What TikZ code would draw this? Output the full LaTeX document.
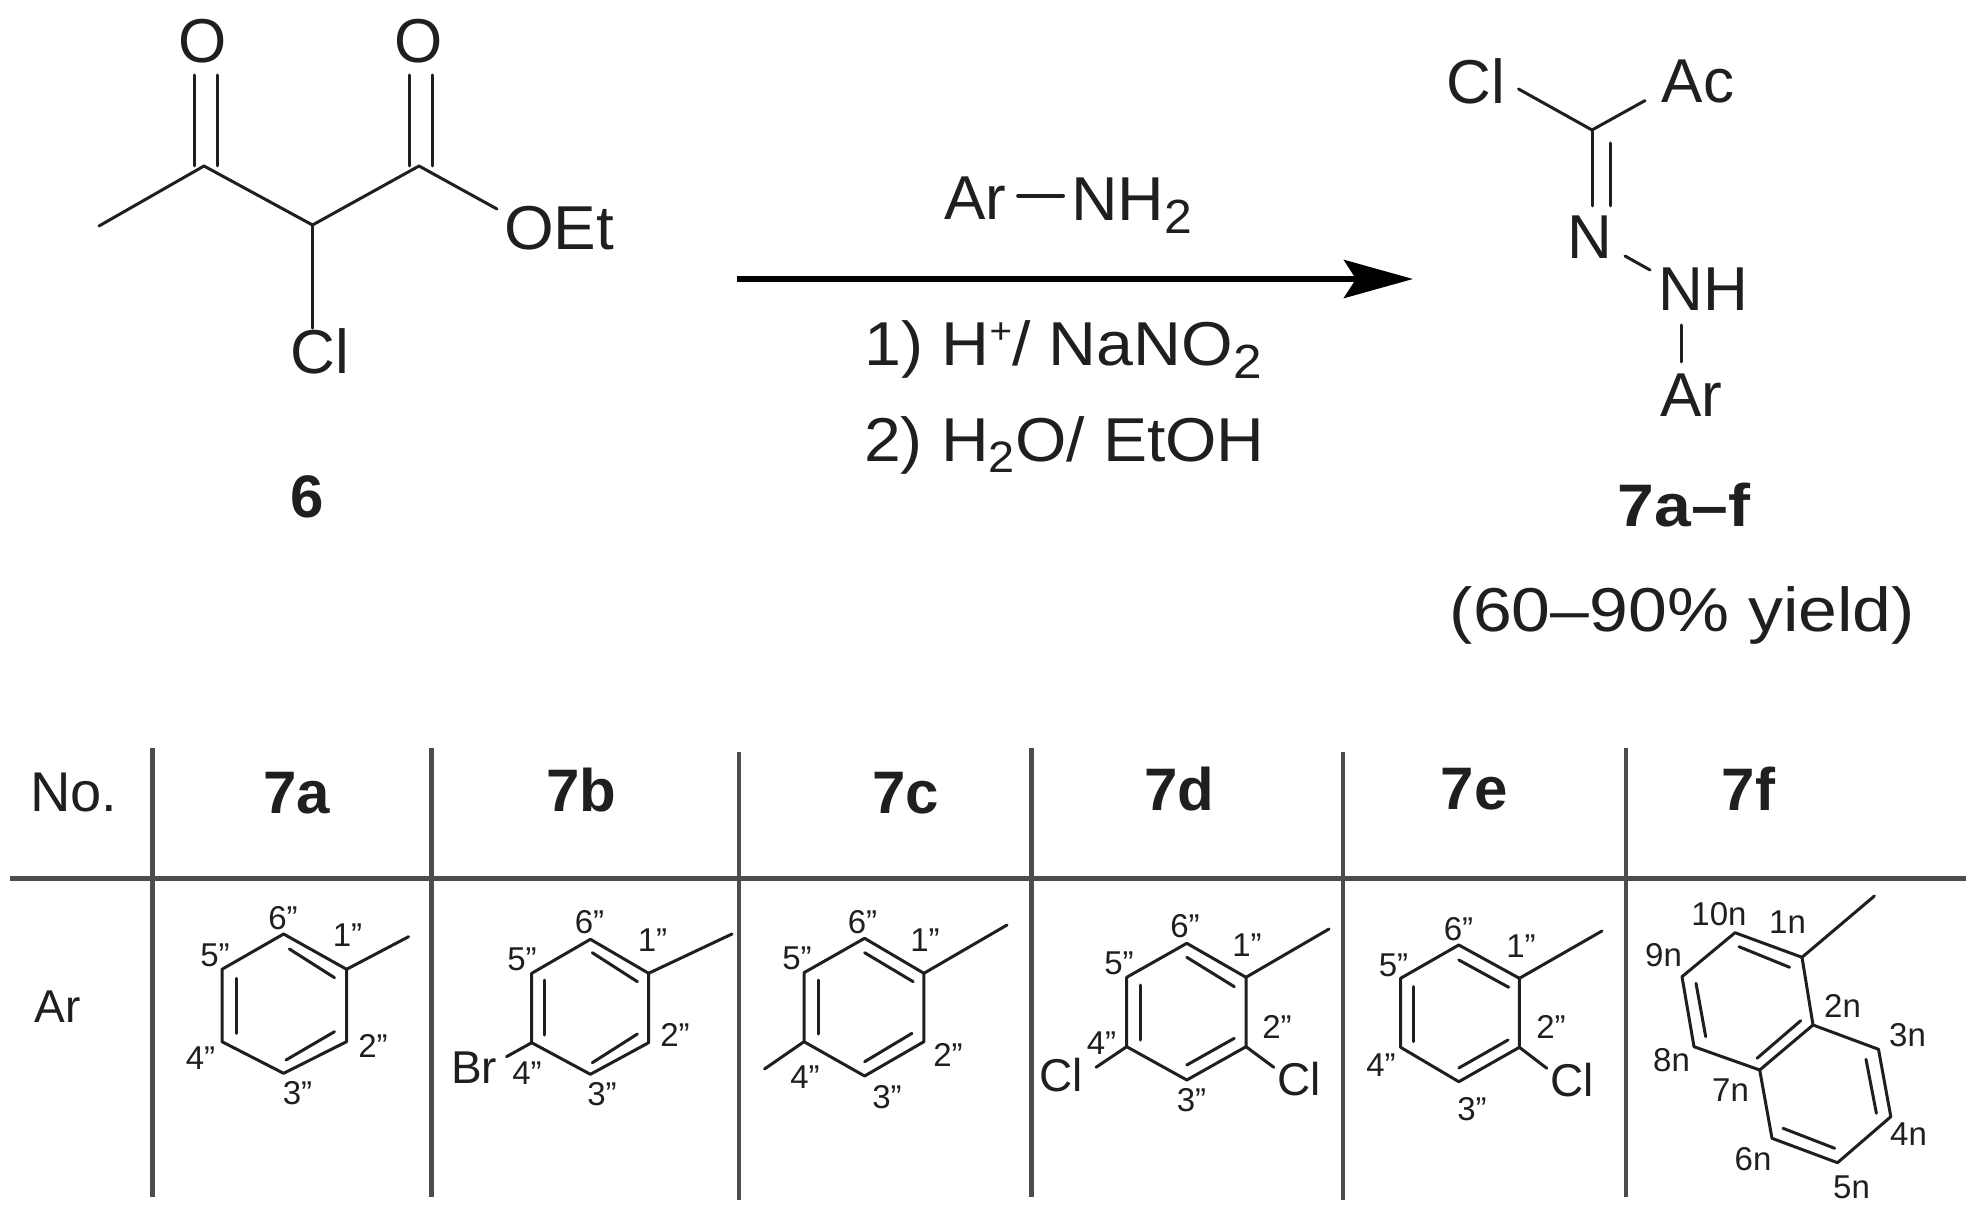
\documentclass[tikz,border=0pt]{standalone}
\usepackage{fontspec}
\setmainfont{Liberation Sans}
\usetikzlibrary{arrows.meta}
\definecolor{ink}{gray}{0.12}
\definecolor{rule}{gray}{0.3}
\newcommand{\subtwo}{\raisebox{-13pt}{\fontsize{48}{48}\selectfont 2}}
\newcommand{\subtwos}{\raisebox{-11pt}{\fontsize{44}{44}\selectfont 2}}
\begin{document}
\begin{tikzpicture}[x=1pt,y=-1pt,
  big/.style={inner sep=0pt,text=ink,font=\fontsize{62}{62}\selectfont},
  head/.style={inner sep=0pt,text=ink,font=\fontsize{60}{60}\selectfont\bfseries},
  sym/.style={inner sep=0pt,text=ink,font=\fontsize{46}{46}\selectfont},
  lab/.style={inner sep=0pt,text=ink,font=\fontsize{33}{33}\selectfont},
  bond/.style={line width=3pt,draw=ink,line cap=round,line join=round},
  rule/.style={line width=4.5pt,draw=rule},
  rxn/.style={line width=6pt,draw=black,-{Stealth[length=69pt,width=38pt,inset=12pt]}}]
\useasboundingbox (0,0) rectangle (1982,1214);
% compound 6
\coordinate (me) at (99,226);
\coordinate (co) at (204,166);
\coordinate (ch) at (312.5,225);
\coordinate (es) at (419,166);
\coordinate (oetend) at (497,209);
\coordinate (co1) at (194.5,166);
\coordinate (co2) at (217,166);
\coordinate (es1) at (409.5,166);
\coordinate (es2) at (432,166);
\node[big] (ketoO) at (203,41){O};
\node[big] (esterO) at (419,41){O};
\node[big,anchor=base west] (oet) at (504,250){\scalebox{1.03}[1]{OEt}};
\node[big] (chl) at (320,351){Cl};
\node[head] (six) at (307,497){6};
\draw[bond] (me)--(co)--(ch)--(es)--(oetend);
\draw[bond] (ch)--(ch |- chl.north);
\draw[bond] (co1)--(co1 |- 0,75);
\draw[bond] (co2)--(co2 |- 0,75);
\draw[bond] (es1)--(es1 |- 0,75);
\draw[bond] (es2)--(es2 |- 0,75);
% arrow and reagents
\coordinate (arrL) at (737,279);
\coordinate (arrR) at (1413,279);
\draw[rxn] (arrL)--(arrR);
\node[big,anchor=base,inner xsep=12pt] (ra) at (975,220){Ar};
\node[big,anchor=base west,inner xsep=8pt] (nh) at (1063,221){\scalebox{1.04}[1]{NH\subtwo}};
\draw[bond,line width=4pt] ([yshift=3pt]ra.east)--([yshift=3pt]ra.east -| nh.west);
\node[big,anchor=base west] (stepone) at (864,366){\scalebox{1.07}[1]{1) H\raisebox{22pt}{\fontsize{36}{36}\selectfont +}/ NaNO\subtwo}};
\node[big,anchor=base west] (steptwo) at (864,461){\scalebox{1.065}[1]{2) H\subtwos O/ EtOH}};
% compound 7
\coordinate (cn) at (1592,130);
\coordinate (clend) at (1518.5,89);
\coordinate (acend) at (1645,100.6);
\coordinate (cn2) at (1610.5,143);
\coordinate (nhs) at (1625,256);
\coordinate (nhe) at (1650,270);
\node[big] (pcl) at (1476,81){Cl};
\node[big] (pac) at (1698,81){Ac};
\node[big] (pn) at (1590,237.5){N};
\node[big] (pnh) at (1703,289.5){NH};
\node[big] (par) at (1691.5,395){Ar};
\node[head] (seven) at (1684,505){\scalebox{1.1}[1]{7a–f}};
\node[big,anchor=base] (yield) at (1682.5,631){\scalebox{1.125}[1]{(60–90\% yield)}};
\draw[bond] (clend)--(cn)--(acend);
\draw[bond] (cn)--(cn |- 0,206);
\draw[bond] (cn2)--(cn2 |- 0,206);
\draw[bond] (nhs)--(nhe);
\coordinate (arS) at (1681,325);
\coordinate (arE) at (1681,362);
\draw[bond] (arS)--(arE);
% table
\coordinate (hL) at (10,878);
\coordinate (hR) at (1966,878);
\draw[rule,line width=5pt] (hL)--(hR);
\foreach \nm/\x/\ya/\yb in {a/152.7/748/1197,b/431.4/748/1197,c/739/752/1200,d/1031.4/748/1197,e/1343/752/1200,f/1626/748/1197}{
  \coordinate (v\nm t) at (\x,\ya);
  \coordinate (v\nm b) at (\x,\yb);
  \draw[rule] (v\nm t)--(v\nm b);
}
\node[big,font=\fontsize{56}{56}\selectfont] (no) at (74,793){No.};
\node[head] (t7a) at (296.5,793){7a};
\node[head] (t7b) at (581.5,790.5){7b};
\node[head] (t7c) at (906,793){7c};
\node[head] (t7d) at (1179,789){7d};
\node[head] (t7e) at (1474,789){7e};
\node[head] (t7f) at (1748.5,789){7f};
\node[sym] (ar) at (57.5,1007){Ar};
% 7a
\coordinate (a1) at (346.6,969.3);
\coordinate (a2) at (346.6,1041.7);
\coordinate (a3) at (283.6,1073.3);
\coordinate (a4) at (222,1041.7);
\coordinate (a5) at (222,969.3);
\coordinate (a6) at (283.6,934);
\coordinate (am) at (408.6,936.7);
\draw[bond] (a1)--(a2)--(a3)--(a4)--(a5)--(a6)--cycle;
\draw[bond] (a1)--(am);
\draw[bond] (289.4,949)--(334.5,977.7);
\draw[bond] (236.5,978.3)--(236.5,1033.3);
\draw[bond] (286,1060)--(334.5,1031.7);
\node[lab] (la6) at (283,918){6"};
\node[lab] (la1) at (347.5,935){1"};
\node[lab] (la5) at (215,955){5"};
\node[lab] (la4) at (200.5,1058.5){4"};
\node[lab] (la3) at (297.5,1093){3"};
\node[lab] (la2) at (373,1046){2"};
% 7b
\coordinate (b1) at (648.6,973.3);
\coordinate (b2) at (648.6,1042.7);
\coordinate (b3) at (590.4,1074.3);
\coordinate (b4) at (531.7,1042.7);
\coordinate (b5) at (531.7,973.3);
\coordinate (b6) at (590.4,939.3);
\coordinate (bm) at (732,934);
\coordinate (bbr) at (506.5,1056.7);
\draw[bond] (b1)--(b2)--(b3)--(b4)--(b5)--(b6)--cycle;
\draw[bond] (b1)--(bm);
\draw[bond] (b4)--(bbr);
\draw[bond] (592.3,952.7)--(637.4,981.7);
\draw[bond] (544,980)--(544,1035);
\draw[bond] (592.3,1062.7)--(637.4,1034);
\node[sym] (br) at (474,1068){Br};
\node[lab] (lb6) at (589.5,922){6"};
\node[lab] (lb1) at (652.5,940){1"};
\node[lab] (lb5) at (522,959){5"};
\node[lab] (lb4) at (527,1073){4"};
\node[lab] (lb3) at (602,1094){3"};
\node[lab] (lb2) at (675,1034.5){2"};
% 7c
\coordinate (c1) at (923.9,973.3);
\coordinate (c2) at (923.9,1041.7);
\coordinate (c3) at (864.6,1076);
\coordinate (c4) at (804,1041.7);
\coordinate (c5) at (804,972.7);
\coordinate (c6) at (864.6,938.3);
\coordinate (cm) at (1007,925);
\coordinate (cn4) at (764.5,1069);
\draw[bond] (c1)--(c2)--(c3)--(c4)--(c5)--(c6)--cycle;
\draw[bond] (c1)--(cm);
\draw[bond] (c4)--(cn4);
\draw[bond] (864.6,952.7)--(913.2,981.7);
\draw[bond] (818,980)--(818,1034);
\draw[bond] (864.6,1061.7)--(912,1033.3);
\node[lab] (lc6) at (862.5,922){6"};
\node[lab] (lc1) at (925,940){1"};
\node[lab] (lc5) at (797,958.5){5"};
\node[lab] (lc4) at (805,1077){4"};
\node[lab] (lc3) at (887,1097){3"};
\node[lab] (lc2) at (948,1055){2"};
% 7d
\coordinate (d1) at (1246,977.3);
\coordinate (d2) at (1246,1046.7);
\coordinate (d3) at (1186.8,1080);
\coordinate (d4) at (1126.7,1046.7);
\coordinate (d5) at (1126.7,977.3);
\coordinate (d6) at (1186.8,943.3);
\coordinate (dm) at (1329,929);
\coordinate (dcl4) at (1096,1067.3);
\coordinate (dcl2) at (1273.8,1067.3);
\draw[bond] (d1)--(d2)--(d3)--(d4)--(d5)--(d6)--cycle;
\draw[bond] (d1)--(dm);
\draw[bond] (d4)--(dcl4);
\draw[bond] (d2)--(dcl2);
\draw[bond] (1186.8,957.3)--(1234.3,986.7);
\draw[bond] (1140,985)--(1140,1040);
\draw[bond] (1186.8,1065)--(1234.3,1038.3);
\node[sym] (dcla) at (1061,1075.5){Cl};
\node[sym] (dclb) at (1299,1079){Cl};
\node[lab] (ld6) at (1185,926){6"};
\node[lab] (ld1) at (1247,945){1"};
\node[lab] (ld5) at (1119,963){5"};
\node[lab] (ld4) at (1101.5,1043.5){4"};
\node[lab] (ld3) at (1191.5,1100){3"};
\node[lab] (ld2) at (1277,1026.5){2"};
% 7e
\coordinate (e1) at (1519.4,978.3);
\coordinate (e2) at (1519.4,1047.3);
\coordinate (e3) at (1458.8,1081.7);
\coordinate (e4) at (1400.6,1047.3);
\coordinate (e5) at (1400.6,978.3);
\coordinate (e6) at (1458.8,945);
\coordinate (em) at (1602,931);
\coordinate (ecl) at (1546.8,1068.3);
\draw[bond] (e1)--(e2)--(e3)--(e4)--(e5)--(e6)--cycle;
\draw[bond] (e1)--(em);
\draw[bond] (e2)--(ecl);
\draw[bond] (1458.8,960)--(1508.7,987.3);
\draw[bond] (1413,986.7)--(1413,1041.7);
\draw[bond] (1458.8,1068)--(1508,1040);
\node[sym] (ecla) at (1572,1080.5){Cl};
\node[lab] (le6) at (1458.5,929){6"};
\node[lab] (le1) at (1521,946.5){1"};
\node[lab] (le5) at (1393.5,965.5){5"};
\node[lab] (le4) at (1381,1065){4"};
\node[lab] (le3) at (1472,1109){3"};
\node[lab] (le2) at (1551,1026.5){2"};
% 7f
\coordinate (f1) at (1802,957.3);
\coordinate (f2) at (1813,1025);
\coordinate (f3) at (1878.5,1049.3);
\coordinate (f4) at (1890.8,1116.7);
\coordinate (f5) at (1837.5,1162.7);
\coordinate (f6) at (1772,1138.3);
\coordinate (f7) at (1759.7,1070);
\coordinate (f8) at (1694,1046.7);
\coordinate (f9) at (1682,976.7);
\coordinate (f10) at (1735,932.7);
\coordinate (fm) at (1874.4,896);
\draw[bond] (f1)--(f2)--(f3)--(f4)--(f5)--(f6)--(f7)--(f8)--(f9)--(f10)--cycle;
\draw[bond] (f2)--(f7);
\draw[bond] (f1)--(fm);
\draw[bond] (1739,946.7)--(1789.6,967.3);
\draw[bond] (1696,983.3)--(1705.7,1036.7);
\draw[bond] (1757,1058.3)--(1800.7,1020.7);
\draw[bond] (1866,1059.3)--(1876.4,1113.3);
\draw[bond] (1783,1128.3)--(1834.7,1148.3);
\node[lab] (lf10) at (1719,914.5){10n};
\node[lab] (lf1) at (1787.5,922.5){1n};
\node[lab] (lf9) at (1663.5,955.5){9n};
\node[lab] (lf2) at (1842.5,1005.5){2n};
\node[lab] (lf3) at (1907.5,1035.5){3n};
\node[lab] (lf8) at (1671.5,1060){8n};
\node[lab] (lf7) at (1730.5,1090){7n};
\node[lab] (lf4) at (1908.5,1134.5){4n};
\node[lab] (lf6) at (1753,1159){6n};
\node[lab] (lf5) at (1851.5,1187.5){5n};
\end{tikzpicture}
\end{document}
